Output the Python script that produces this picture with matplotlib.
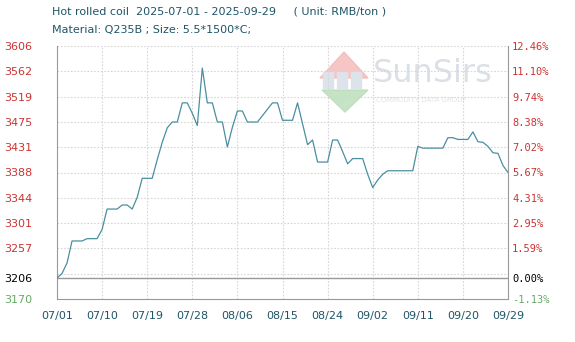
import datetime as dt
import matplotlib
matplotlib.use("Agg")
import matplotlib.pyplot as plt
from matplotlib.patches import Polygon, Rectangle

# Daten (Tag seit 2025-07-01, Preis RMB/t)
days = [0, 1, 2, 3, 5, 6, 8, 9, 10, 12, 13, 14, 15, 16, 17, 19, 20, 21, 22, 23,
        24, 25, 26, 27, 28, 29, 30, 31, 32, 33, 34, 35, 36, 37, 38, 40, 41, 42,
        43, 44, 45, 47, 48, 49, 50, 51, 52, 54, 55, 56, 57, 58, 59, 61, 62, 63,
        64, 65, 66, 71, 72, 73, 77, 78, 79, 80, 82, 83, 84, 85, 86, 87, 88, 89, 90]
prices = [3206, 3214, 3232, 3270, 3270, 3274, 3274, 3290, 3325, 3325, 3332, 3332,
          3325, 3345, 3378, 3378, 3410, 3440, 3465, 3475, 3475, 3508, 3508, 3490,
          3469, 3568, 3508, 3508, 3475, 3475, 3432, 3466, 3494, 3494, 3475, 3475,
          3486, 3497, 3508, 3508, 3478, 3478, 3508, 3472, 3436, 3444, 3406, 3406,
          3444, 3444, 3424, 3403, 3412, 3412, 3385, 3362, 3375, 3385, 3391, 3391,
          3433, 3430, 3430, 3448, 3448, 3445, 3445, 3458, 3441, 3440, 3433, 3422,
          3421, 3400, 3388]

start = dt.date(2025, 7, 1)
dates = [start + dt.timedelta(days=d) for d in days]

base = 3206
y_min, y_max = 3170, 3606
left_ticks = [3170, 3206, 3257.2, 3300.8, 3344.4, 3388, 3431.6, 3475.2, 3518.8, 3562.4, 3606]
left_labels = ["3170", "3206", "3257", "3301", "3344", "3388", "3431", "3475", "3519", "3562", "3606"]
right_labels = ["-1.13%", "0.00%", "1.59%", "2.95%", "4.31%", "5.67%", "7.02%", "8.38%", "9.74%", "11.10%", "12.46%"]
x_ticks = ["07/01", "07/10", "07/19", "07/28", "08/06", "08/15", "08/24", "09/02", "09/11", "09/20", "09/29"]

red = "#cc3333"
green = "#66aa66"
teal = "#1f5566"
grid_col = "#d6d6d6"

fig = plt.figure(figsize=(5.75, 3.42), dpi=100)
ax = fig.add_axes([57 / 575, 1 - 299 / 342, 451 / 575, 253 / 342])

# Wasserzeichen
logo = fig.add_axes([0, 0, 1, 1], zorder=-1)
logo.set_xlim(0, 575)
logo.set_ylim(342, 0)
logo.axis("off")
logo.add_patch(Polygon([[320, 78], [344, 52], [368, 78]], closed=True, color="#f4b8b8", alpha=0.8))
logo.add_patch(Polygon([[322, 90], [368, 90], [345, 112]], closed=True, color="#b8dcb8", alpha=0.8))
for x0 in (323, 337, 351):
    logo.add_patch(Rectangle((x0, 72), 10, 16, color="#dde3ea"))
logo.text(373, 73, "SunSirs", fontsize=23, color="#dbe0e6", va="center", ha="left")
logo.text(376, 100, "COMMODITY DATA GROUP", fontsize=5, color="#dfe3e8", va="center", ha="left")

ax.patch.set_alpha(0)
ax.plot(dates, prices, color="#4a8fa0", lw=0.9, zorder=3)
ax.axhline(base, color="#999999", lw=1.0, zorder=2)

ax.set_xlim(start, start + dt.timedelta(days=90))
ax.set_ylim(y_min, y_max)

tick_dates = [start + dt.timedelta(days=9 * i) for i in range(len(x_ticks))]
ax.set_xticks(tick_dates)
ax.set_xticklabels(x_ticks)
ax.set_yticks(left_ticks)
ax.set_yticklabels(left_labels)
for i, lbl in enumerate(ax.get_yticklabels()):
    lbl.set_color(green if i == 0 else ("black" if i == 1 else red))

grid_vals = [y_min + 43.6 * k for k in range(1, 11)]
for g in grid_vals:
    ax.axhline(g, color=grid_col, lw=0.8, ls=(0, (1.5, 1.5)), zorder=1)
for t in tick_dates[1:-1]:
    ax.axvline(t, color=grid_col, lw=0.8, ls=(0, (1.5, 1.5)), zorder=1)

ax.tick_params(axis="y", length=0, pad=18, labelsize=8)
ax.tick_params(axis="x", length=0, pad=9, labelsize=8, labelcolor=teal)
for s in ("left", "bottom", "right"):
    ax.spines[s].set_color("#999999")
ax.spines["top"].set_visible(False)

ax2 = ax.twinx()
ax2.set_ylim(y_min, y_max)
ax2.set_yticks(left_ticks)
ax2.set_yticklabels(right_labels, family="DejaVu Sans Mono")
for i, lbl in enumerate(ax2.get_yticklabels()):
    lbl.set_color(green if i == 0 else ("black" if i == 1 else red))
ax2.tick_params(axis="y", length=0, pad=3, labelsize=7.5)
for s in ax2.spines.values():
    s.set_visible(False)

fig.text(52 / 575, 1 - 12 / 342, "Hot rolled coil  2025-07-01 - 2025-09-29     ( Unit: RMB/ton )",
         fontsize=8, color=teal, va="center", ha="left")
fig.text(52 / 575, 1 - 30 / 342, "Material: Q235B ; Size: 5.5*1500*C;",
         fontsize=8, color=teal, va="center", ha="left")

fig.savefig("out.png", dpi=100)
